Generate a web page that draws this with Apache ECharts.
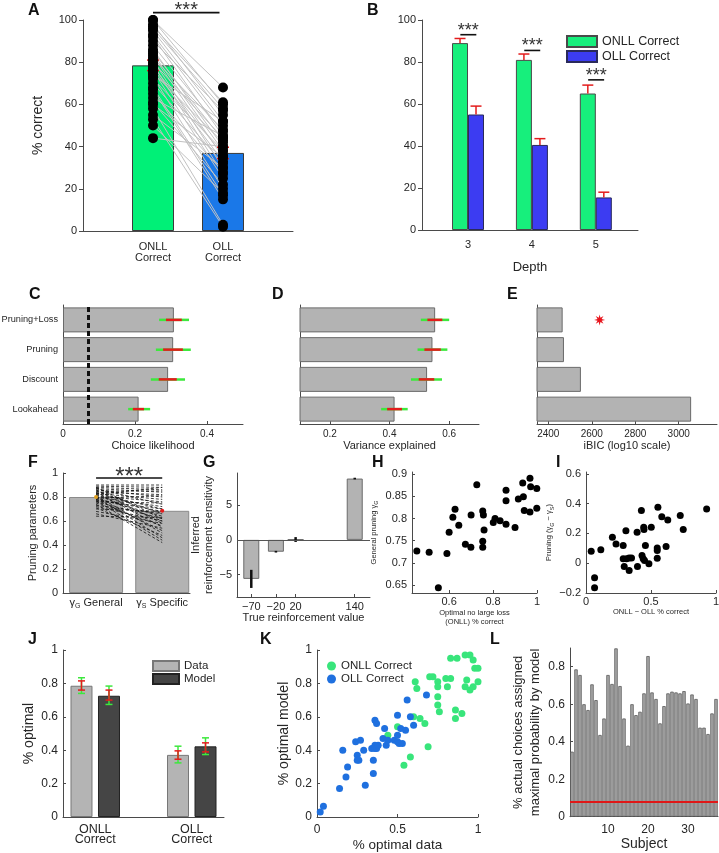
<!DOCTYPE html>
<html><head><meta charset="utf-8">
<script src="https://cdn.jsdelivr.net/npm/echarts@6/dist/echarts.min.js"></script>
<style>html,body{margin:0;padding:0;background:#fff}#c{width:719px;height:853px}</style>
</head><body><div id="c"></div>
<script>
// ---------- DATA ----------
// A
const aCats = ['ONLL\nCorrect', 'OLL\nCorrect'];
const aMeans = [78.5, 37];
const aSem = [2.5, 2.7];
const aONLL = [100,100,98,97,96,95,93,92,90,88,86,85,84,83,82,81,80,79,78,77,76,75,74,73,72,70,68,67,65,63,61,60,58,55,53,50,44];
const aOLL  = [68,60,55,61,58,52,50,45,57,47,40,43,38,35,48,30,44,27,36,33,25,42,52,20,38,32,17,15,28,45,22,35,3,30,2,18,40];
const aSig = [[1, 1.95, 103.5]];
// B
const bDepths = [3, 4, 5];
const bONLL = [89, 81, 65];
const bONLLErr = [2.2, 2.8, 4];
const bOLL = [55, 40.5, 15.5];
const bOLLErr = [4, 3, 2.5];
const bSig = [93, 85.5, 71.5];
// C, D, E (bottom to top)
const cCats = ['Lookahead', 'Discount', 'Pruning', 'Pruning+Loss'];
const cVals = [0.21, 0.292, 0.306, 0.308];
const cRed = [[0.194,0.225],[0.266,0.316],[0.278,0.333],[0.286,0.33]];
const cGreen = [[0.181,0.242],[0.244,0.339],[0.258,0.355],[0.267,0.35]];
const cChance = 0.071;
const dVals = [0.417, 0.526, 0.544, 0.553];
const dRed = [[0.392,0.442],[0.498,0.55],[0.517,0.572],[0.527,0.577]];
const dGreen = [[0.372,0.461],[0.472,0.576],[0.494,0.594],[0.505,0.6]];
const eVals = [3057, 2550, 2472, 2466];
const eBest = [2636, 'Pruning+Loss'];
// F
const fCats = ['General', 'Specific'];
const fMeans = [0.80, 0.685];
const fGeneral  = [0.90,0.89,0.88,0.88,0.87,0.87,0.86,0.86,0.85,0.85,0.84,0.84,0.83,0.83,0.82,0.82,0.81,0.81,0.80,0.80,0.79,0.79,0.78,0.78,0.77,0.77,0.76,0.76,0.75,0.74,0.73,0.72,0.71,0.70,0.68,0.66,0.64];
const fSpecific = [0.90,0.88,0.62,0.86,0.74,0.84,0.58,0.80,0.85,0.66,0.82,0.55,0.78,0.70,0.60,0.88,0.50,0.76,0.72,0.46,0.81,0.64,0.68,0.52,0.70,0.44,0.62,0.75,0.56,0.42,0.66,0.60,0.48,0.68,0.58,0.54,0.63];
const fSig = [[1, 2, 0.958]];
// G
const gX = [-70, -20, 20, 140];
const gVals = [-5.6, -1.7, 0.05, 8.8];
const gErr = [1.3, 0.12, 0.35, 0.12];
// H
const hPoints = [[0.453,0.727],[0.509,0.724],[0.551,0.644],[0.590,0.721],[0.600,0.769],[0.617,0.803],[0.627,0.821],[0.644,0.785],[0.674,0.742],[0.699,0.735],[0.700,0.808],[0.726,0.876],[0.753,0.817],[0.756,0.808],[0.759,0.774],[0.753,0.749],[0.753,0.735],[0.801,0.791],[0.809,0.800],[0.832,0.795],[0.859,0.864],[0.859,0.840],[0.859,0.787],[0.900,0.780],[0.915,0.844],[0.935,0.880],[0.938,0.849],[0.942,0.818],[0.968,0.891],[0.971,0.872],[0.968,0.815],[0.999,0.868],[0.999,0.823]];
// I
const iPoints = [[0.04,0.081],[0.066,-0.098],[0.066,-0.165],[0.114,0.09],[0.203,0.175],[0.231,0.13],[0.286,0.119],[0.286,0.03],[0.294,-0.022],[0.307,0.219],[0.312,0.03],[0.332,0.036],[0.332,-0.049],[0.35,0.036],[0.393,0.208],[0.396,-0.022],[0.426,0.354],[0.431,0.052],[0.444,0.242],[0.446,0.226],[0.44,0.03],[0.45,0.018],[0.457,0.119],[0.484,-0.004],[0.502,0.242],[0.548,0.103],[0.548,0.034],[0.548,0.086],[0.553,0.376],[0.583,0.313],[0.616,0.112],[0.629,0.291],[0.725,0.32],[0.748,0.226],[0.928,0.365]];
// J
const jCats = ['ONLL\nCorrect', 'OLL\nCorrect'];
const jData = [0.786, 0.372];
const jModel = [0.726, 0.423];
const jDataRed = [[0.76,0.815],[0.346,0.396]];
const jDataGreen = [[0.74,0.834],[0.324,0.424]];
const jModelRed = [[0.70,0.76],[0.39,0.444]];
const jModelGreen = [[0.674,0.784],[0.374,0.474]];
// K
const kONLL = [[0.54,0.31],[0.58,0.36],[0.69,0.42],[0.44,0.49],[0.50,0.54],[0.60,0.60],[0.64,0.59],[0.67,0.56],[0.61,0.81],[0.62,0.77],[0.70,0.84],[0.72,0.84],[0.75,0.81],[0.75,0.78],[0.75,0.72],[0.75,0.67],[0.76,0.63],[0.80,0.83],[0.81,0.78],[0.83,0.83],[0.83,0.95],[0.87,0.95],[0.86,0.64],[0.86,0.59],[0.90,0.62],[0.92,0.78],[0.92,0.97],[0.95,0.97],[0.93,0.82],[0.95,0.76],[0.97,0.78],[0.97,0.94],[0.98,0.89],[1.0,0.89],[1.0,0.81]];
const kOLL = [[0.02,0.03],[0.04,0.065],[0.14,0.17],[0.16,0.40],[0.18,0.24],[0.19,0.30],[0.24,0.45],[0.27,0.46],[0.25,0.37],[0.25,0.34],[0.26,0.34],[0.29,0.40],[0.30,0.19],[0.35,0.34],[0.35,0.26],[0.34,0.41],[0.36,0.43],[0.36,0.58],[0.37,0.56],[0.36,0.41],[0.37,0.41],[0.38,0.43],[0.41,0.47],[0.42,0.53],[0.43,0.43],[0.44,0.46],[0.48,0.46],[0.50,0.45],[0.50,0.49],[0.50,0.61],[0.52,0.53],[0.51,0.44],[0.53,0.44],[0.55,0.52],[0.56,0.70],[0.58,0.60],[0.60,0.55],[0.68,0.73]];
// L
const lVals = [0.347,0.786,0.756,0.6,0.569,0.706,0.622,0.436,0.524,0.756,0.708,0.898,0.697,0.524,0.379,0.6,0.542,0.56,0.658,0.857,0.663,0.628,0.498,0.59,0.658,0.667,0.663,0.658,0.67,0.604,0.652,0.628,0.475,0.475,0.441,0.551,0.628];
const lChance = 0.08;

// ---------- STYLE / HELPERS ----------
const FF = '"Liberation Sans", Arial, Helvetica, sans-serif';
const AX = '#4a4a4a', TX = '#262626';
const RED = '#e31c1c', GREEN = '#3de83d';
const grayBar = {color:'#b3b3b3', borderColor:'#6a6a6a', borderWidth:1};
function merge(a, b){ for (const k in b){ const v=b[k]; if (v && typeof v==='object' && !Array.isArray(v) && typeof v!=='function' && a[k] && typeof a[k]==='object' && !Array.isArray(a[k])) merge(a[k], v); else a[k]=v; } return a; }
const plain = v => String(+(+v).toFixed(4));
function ax(gi, inside, o){
  return merge({gridIndex:gi, splitLine:{show:false}, nameLocation:'middle',
    axisLine:{show:true, onZero:false, lineStyle:{color:AX, width:1}},
    axisTick:{show:true, inside:inside, length:3, lineStyle:{color:AX}},
    axisLabel:{color:TX, fontSize:11, fontFamily:FF, margin:5, formatter:plain},
    nameTextStyle:{color:TX, fontFamily:FF, fontSize:12}}, o);
}
const minus = v => (v < 0 ? '\u2212' + plain(Math.abs(v)) : plain(v));
const cv = vals => ({axisLabel:{customValues:vals}, axisTick:{customValues:vals}});
function segSeries(gi, data, color, width, dash, z){
  return {type:'custom', coordinateSystem:'cartesian2d', xAxisIndex:gi, yAxisIndex:gi, data, silent:true, clip:false, z:z||2,
    encode:{x:[0,2], y:[1,3]},
    renderItem:(p, api)=>{ const a=api.coord([api.value(0),api.value(1)]), b=api.coord([api.value(2),api.value(3)]);
      return {type:'line', shape:{x1:a[0],y1:a[1],x2:b[0],y2:b[1]}, style:{stroke:color, lineWidth:width, lineDash:dash||null}}; }};
}
function vErr(gi, data, color, width, cap, offset, topOnly, z){
  return {type:'custom', coordinateSystem:'cartesian2d', xAxisIndex:gi, yAxisIndex:gi, data, silent:true, clip:false, z:z||4,
    encode:{x:0, y:[1,2]},
    renderItem:(p, api)=>{ const a=api.coord([api.value(0),api.value(1)]), b=api.coord([api.value(0),api.value(2)]);
      const x=a[0]+offset, st={stroke:color, lineWidth:width};
      const ch=[{type:'line', shape:{x1:x,y1:a[1],x2:x,y2:b[1]}, style:st}];
      if (cap>0){ ch.push({type:'line', shape:{x1:x-cap/2,y1:b[1],x2:x+cap/2,y2:b[1]}, style:st});
        if (!topOnly) ch.push({type:'line', shape:{x1:x-cap/2,y1:a[1],x2:x+cap/2,y2:a[1]}, style:st}); }
      return {type:'group', children:ch}; }};
}
function hErr(gi, ranges, color, width){
  return {type:'custom', coordinateSystem:'cartesian2d', xAxisIndex:gi, yAxisIndex:gi, silent:true, clip:false, z:4,
    data: ranges.map((r,i)=>[r[0], r[1], i]), encode:{x:[0,1], y:2},
    renderItem:(p, api)=>{ const a=api.coord([api.value(0),api.value(2)]), b=api.coord([api.value(1),api.value(2)]);
      return {type:'line', shape:{x1:a[0],y1:a[1],x2:b[0],y2:b[1]}, style:{stroke:color, lineWidth:width}}; }};
}
function sigSeries(gi, data, fs, dy){
  return {type:'custom', coordinateSystem:'cartesian2d', xAxisIndex:gi, yAxisIndex:gi, data, silent:true, clip:false, z:6,
    encode:{x:[0,1], y:2},
    renderItem:(p, api)=>{ const a=api.coord([api.value(0),api.value(2)]), b=api.coord([api.value(1),api.value(2)]);
      return {type:'group', children:[
        {type:'line', shape:{x1:a[0],y1:a[1],x2:b[0],y2:b[1]}, style:{stroke:'#111', lineWidth:1.6}},
        {type:'text', style:{text:'***', x:(a[0]+b[0])/2, y:a[1]+dy, align:'center', verticalAlign:'middle', fill:'#333', fontSize:fs, fontFamily:FF}}]}; }};
}
const starPath = 'path://M0,-10L1.53,-3.7L7.07,-7.07L3.7,-1.53L10,0L3.7,1.53L7.07,7.07L1.53,3.7L0,10L-1.53,3.7L-7.07,7.07L-3.7,1.53L-10,0L-3.7,-1.53L-7.07,-7.07L-1.53,-3.7Z';

const G = [[83,20,210,211],[422,20,216,210],[63,305,180,119],[300,305,179,119],[537,305,180,119],[63,473,127,120],[237,473,133,124],[412,472,125,121],[586,472,130,121],[63,650,161,167],[317,650,161,167],[570,648,148,168.7]];
const grids = G.map(g=>({left:g[0], top:g[1], width:g[2], height:g[3], containLabel:false, outerBoundsMode:'none'}));

const subRich = (fs, sfs, pad) => ({t:{fontSize:fs, fontFamily:FF, color:TX, lineHeight:fs+2, verticalAlign:'top'}, s:{fontSize:sfs, fontFamily:FF, color:TX, lineHeight:sfs+1, padding:[pad,0,0,0], verticalAlign:'top'}});

const xAxes = [
  ax(0,false,merge({type:'value', min:0, max:3, axisTick:{show:false}, axisLabel:{formatter:v=>aCats[Math.round(v)-1], lineHeight:10.5, margin:11}}, {axisLabel:{customValues:[1,2]}})),
  ax(1,false,merge({type:'value', min:2.28, max:5.66, axisTick:{show:false}, axisLabel:{margin:9}, name:'Depth', nameGap:31, nameTextStyle:{fontSize:13}}, {axisLabel:{customValues:bDepths}})),
  ax(2,true,merge({type:'value', min:0, max:0.5, axisLabel:{fontSize:10}, name:'Choice likelihood', nameGap:16, nameTextStyle:{fontSize:11}}, cv([0,0.2,0.4]))),
  ax(3,true,merge({type:'value', min:0.1, max:0.7, axisLabel:{fontSize:10}, name:'Variance explained', nameGap:16, nameTextStyle:{fontSize:11}}, cv([0.2,0.4,0.6]))),
  ax(4,true,merge({type:'value', min:2348, max:3176, axisLabel:{fontSize:10}, name:'iBIC (log10 scale)', nameGap:16, nameTextStyle:{fontSize:11}}, cv([2400,2600,2800,3000]))),
  ax(5,true,merge({type:'value', min:0.5, max:2.42, axisTick:{show:false}, axisLabel:{margin:4, formatter:v=>(Math.round(v)===1?'{t|\u03b3}{s|G}{t| General}':'{t|\u03b3}{s|S}{t| Specific}'), rich:subRich(11,7,6)}}, {axisLabel:{customValues:[1,2]}})),
  ax(6,true,merge({type:'value', min:-99, max:171, axisLabel:{formatter:minus, margin:4}, name:'True reinforcement value', nameGap:12, nameTextStyle:{fontSize:11}}, cv(gX))),
  ax(7,true,merge({type:'value', min:0.431, max:1.0, axisLabel:{margin:3}, name:'Optimal no large loss\n(ONLL) % correct', nameGap:15, nameTextStyle:{fontSize:7.5, lineHeight:9}}, cv([0.6,0.8,1]))),
  ax(8,true,merge({type:'value', min:0, max:1, axisLabel:{margin:3}, name:'ONLL \u2212 OLL % correct', nameGap:15, nameTextStyle:{fontSize:7.5}}, cv([0,0.5,1]))),
  ax(9,true,merge({type:'value', min:0.666, max:2.334, axisTick:{show:false}, axisLabel:{fontSize:12.5, lineHeight:10.5, margin:7, formatter:v=>jCats[Math.round(v)-1]}}, {axisLabel:{customValues:[1,2]}})),
  ax(10,true,merge({type:'value', min:0, max:1, axisLabel:{fontSize:12, margin:7}, name:'% optimal data', nameGap:21, nameTextStyle:{fontSize:13.5}}, cv([0,0.5,1]))),
  ax(11,true,merge({type:'value', min:0.5, max:37.5, axisLabel:{fontSize:12, margin:7}, name:'Subject', nameGap:20, nameTextStyle:{fontSize:14}}, cv([10,20,30]))),
];
const yAxes = [
  ax(0,false,{type:'value', min:0, max:100, interval:20, axisTick:{length:4}, axisLabel:{margin:6}, name:'% correct', nameGap:38, nameTextStyle:{fontSize:14}}),
  ax(1,false,{type:'value', min:0, max:100, interval:20, axisTick:{length:4}, axisLabel:{margin:6}}),
  ax(2,true,{type:'category', data:cCats, axisTick:{show:false}, axisLabel:{fontSize:9.2, margin:5, formatter:null}}),
  ax(3,true,{type:'category', data:cCats, axisTick:{show:false}, axisLabel:{show:false, formatter:null}}),
  ax(4,true,{type:'category', data:cCats, axisTick:{show:false}, axisLabel:{show:false, formatter:null}}),
  ax(5,true,{type:'value', min:0, max:1, interval:0.2, name:'Pruning parameters', nameGap:19, nameTextStyle:{fontSize:11}}),
  ax(6,true,merge({type:'value', min:-8.2, max:9.6, axisLabel:{formatter:minus}, name:'Inferred\nreinforcement sensitivity', nameGap:15, nameTextStyle:{fontSize:11, lineHeight:13}}, cv([-5,0,5]))),
  ax(7,true,merge({type:'value', min:0.632, max:0.905, name:'{t|General pruning \u03b3}{s|G}', nameGap:33, nameTextStyle:{rich:subRich(7.5,5.5,4)}}, cv([0.65,0.7,0.75,0.8,0.85,0.9]))),
  ax(8,true,merge({type:'value', min:-0.2, max:0.613, axisLabel:{formatter:minus}, name:'{t|Pruning (\u03b3}{s|G}{t| \u2212 \u03b3}{s|S}{t|)}', nameGap:24, nameTextStyle:{rich:subRich(7.5,5.5,4)}}, cv([-0.2,0,0.2,0.4,0.6]))),
  ax(9,true,{type:'value', min:0, max:1, interval:0.2, axisLabel:{fontSize:12}, name:'% optimal', nameGap:27, nameTextStyle:{fontSize:14}}),
  ax(10,true,{type:'value', min:0, max:1, interval:0.2, axisLabel:{fontSize:12}, name:'% optimal model', nameGap:25, nameTextStyle:{fontSize:14}}),
  ax(11,true,merge({type:'value', min:0, max:0.9, axisLabel:{fontSize:12}, name:'% actual choices assigned\nmaximal probability by model', nameGap:23, nameTextStyle:{fontSize:13, lineHeight:17}}, cv([0,0.2,0.4,0.6,0.8]))),
];

const dot = c => ({color:c, opacity:1});
const series = [
  // A
  {type:'bar', xAxisIndex:0, yAxisIndex:0, barWidth:42, z:1,
   data: aMeans.map((v,i)=>({value:[i+1,v], itemStyle:{color:['#00f077','#1a78e8'][i]}})),
   itemStyle:{borderColor:'#3a3a3a', borderWidth:1}},
  segSeries(0, aONLL.map((v,i)=>[1,v,2,aOLL[i]]), '#c2c2c2', 1, null, 2),
  vErr(0, aMeans.map((m,i)=>[i+1, m-aSem[i], m+aSem[i]]), RED, 1.5, 12, 0, false, 3),
  {type:'scatter', xAxisIndex:0, yAxisIndex:0, symbolSize:10, itemStyle:dot('#000'), z:5,
   data:[...aONLL.map(v=>[1,v]), ...aOLL.map(v=>[2,v])]},
  sigSeries(0, aSig, 20, -2),
  // B
  {type:'bar', name:'ONLL Correct', xAxisIndex:1, yAxisIndex:1, barWidth:16, barGap:'0%',
   data:bDepths.map((d,i)=>[d,bONLL[i]]), itemStyle:{color:'#17ef7c', borderColor:'#4a4a4a', borderWidth:1}},
  {type:'bar', name:'OLL Correct', xAxisIndex:1, yAxisIndex:1, barWidth:16, barGap:'0%',
   data:bDepths.map((d,i)=>[d,bOLL[i]]), itemStyle:{color:'#3c3cf2', borderColor:'#2a2a5a', borderWidth:1}},
  vErr(1, bDepths.map((d,i)=>[d, bONLL[i], bONLL[i]+bONLLErr[i]]), RED, 1.5, 11, -8, true),
  vErr(1, bDepths.map((d,i)=>[d, bOLL[i], bOLL[i]+bOLLErr[i]]), RED, 1.5, 11, 8, true),
  sigSeries(1, bDepths.map((d,i)=>[d-0.12, d+0.13, bSig[i]]), 18, -4),
  // C
  {type:'bar', xAxisIndex:2, yAxisIndex:2, barWidth:25, data:cVals, itemStyle:grayBar,
   markLine:{silent:true, symbol:'none', label:{show:false}, lineStyle:{color:'#111', type:[5,3], width:3}, data:[{xAxis:cChance}]}},
  hErr(2, cGreen, GREEN, 2.5), hErr(2, cRed, RED, 2.5),
  // D
  {type:'bar', xAxisIndex:3, yAxisIndex:3, barWidth:25, data:dVals, itemStyle:grayBar},
  hErr(3, dGreen, GREEN, 2.5), hErr(3, dRed, RED, 2.5),
  // E
  {type:'bar', xAxisIndex:4, yAxisIndex:4, barWidth:25, data:eVals, itemStyle:grayBar},
  {type:'scatter', xAxisIndex:4, yAxisIndex:4, data:[eBest], symbol:starPath, symbolSize:11, itemStyle:dot('#e8141c')},
  // F
  {type:'bar', xAxisIndex:5, yAxisIndex:5, barWidth:54, data:fMeans.map((v,i)=>[i+1,v]), itemStyle:{color:'#b3b3b3', borderColor:'#8a8a8a', borderWidth:1}},
  segSeries(5, fGeneral.map((g,i)=>[1,g,2,fSpecific[i]]), '#111', 0.8, [3,2], 3),
  {type:'scatter', xAxisIndex:5, yAxisIndex:5, symbolSize:4, z:5, data:[{value:[1,fMeans[0]], itemStyle:dot('#e0a020')}, {value:[2,fMeans[1]], itemStyle:dot(RED)}]},
  sigSeries(5, fSig, 24, -1),
  // G
  {type:'bar', xAxisIndex:6, yAxisIndex:6, barWidth:16, data:gX.map((x,i)=>[x,gVals[i]]), itemStyle:grayBar,
   markLine:{silent:true, symbol:'none', label:{show:false}, lineStyle:{color:'#555', type:'solid', width:1}, data:[{yAxis:0}]}},
  vErr(6, gX.map((x,i)=>[x, gVals[i]-gErr[i], gVals[i]+gErr[i]]), '#111', 2.5, 0, 0, false),
  // H
  {type:'scatter', xAxisIndex:7, yAxisIndex:7, symbolSize:7, itemStyle:dot('#000'), data:hPoints},
  // I
  {type:'scatter', xAxisIndex:8, yAxisIndex:8, symbolSize:7, itemStyle:dot('#000'), data:iPoints},
  // J
  {type:'bar', name:'Data', xAxisIndex:9, yAxisIndex:9, barWidth:22, barGap:'25%', data:jData.map((v,i)=>[i+1,v]), itemStyle:{color:'#b4b4b4', borderColor:'#777', borderWidth:1}},
  {type:'bar', name:'Model', xAxisIndex:9, yAxisIndex:9, barWidth:22, barGap:'25%', data:jModel.map((v,i)=>[i+1,v]), itemStyle:{color:'#454545', borderColor:'#222', borderWidth:1}},
  vErr(9, jDataGreen.map((r,i)=>[i+1,r[0],r[1]]), GREEN, 1.5, 7, -13.75, false, 4),
  vErr(9, jModelGreen.map((r,i)=>[i+1,r[0],r[1]]), GREEN, 1.5, 7, 13.75, false, 4),
  vErr(9, jDataRed.map((r,i)=>[i+1,r[0],r[1]]), RED, 1.5, 7, -13.75, false, 5),
  vErr(9, jModelRed.map((r,i)=>[i+1,r[0],r[1]]), RED, 1.5, 7, 13.75, false, 5),
  // K
  {type:'scatter', name:'ONLL Correct ', xAxisIndex:10, yAxisIndex:10, symbolSize:7, itemStyle:dot('#38e57b'), data:kONLL},
  {type:'scatter', name:'OLL Correct ', xAxisIndex:10, yAxisIndex:10, symbolSize:7, itemStyle:dot('#1f70df'), data:kOLL},
  // L
  {type:'bar', xAxisIndex:11, yAxisIndex:11, barWidth:3.4, data:lVals.map((v,i)=>[i+1,v]), itemStyle:{color:'#a8a8a8', borderColor:'#5a5a5a', borderWidth:0.8},
   markLine:{silent:true, symbol:'none', label:{show:false}, lineStyle:{color:'#e01818', type:'solid', width:2}, data:[{yAxis:lChance}]}},
];

const letters = [['A',28,3],['B',367,3],['C',29,287],['D',272,287],['E',507,287],['F',28,455],['G',203,455],['H',372,455],['I',556,455],['J',28,632],['K',260,632],['L',490,632]];
const graphic = letters.map(l=>({type:'text', left:l[1], top:l[2], style:{text:l[0], fontSize:16, fontWeight:'bold', fontFamily:FF, fill:'#111'}}));

const legendText = {color:TX, fontFamily:FF};
const option = {
  animation:false, backgroundColor:'#fff',
  grid:grids, xAxis:xAxes, yAxis:yAxes, series, graphic,
  legend:[
    {data:['ONLL Correct','OLL Correct'], left:566, top:35, orient:'vertical', padding:0, itemWidth:30, itemHeight:11, itemGap:2, icon:'rect', selectedMode:false, textStyle:merge({fontSize:12.5},legendText)},
    {data:['Data','Model'], left:152, top:660, orient:'vertical', padding:0, itemWidth:26, itemHeight:10, itemGap:1, icon:'rect', selectedMode:false, textStyle:merge({fontSize:11.5},legendText)},
    {data:['ONLL Correct ','OLL Correct '], left:327, top:660, orient:'vertical', padding:0, itemWidth:9, itemHeight:9, itemGap:1, icon:'circle', selectedMode:false, textStyle:merge({fontSize:11.5},legendText)}
  ]
};
const chart = echarts.init(document.getElementById('c'), null, {renderer:'canvas'});
chart.setOption(option);
</script></body></html>
